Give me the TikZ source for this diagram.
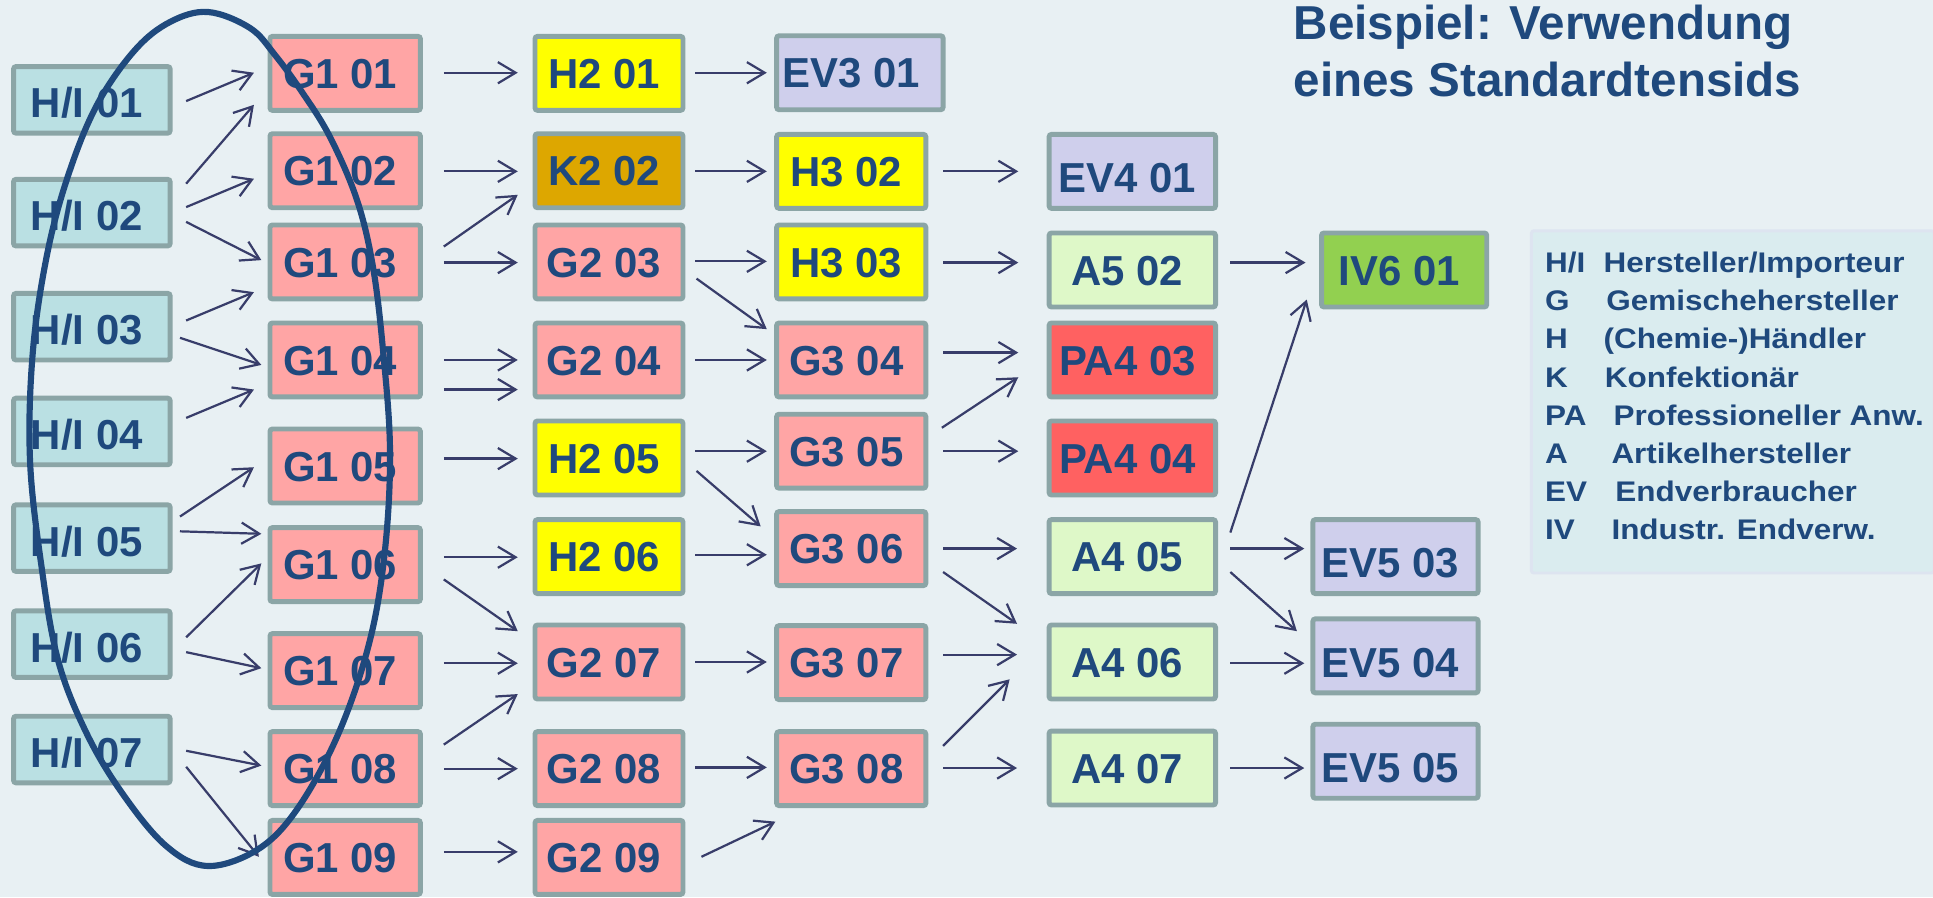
\documentclass[tikz,border=0pt]{standalone}
\usepackage{fontspec}
\setmainfont{Liberation Sans}
\newfontfamily\legfont{Liberation Sans}[FakeStretch=1.11]
\usetikzlibrary{arrows.meta,calc}
\definecolor{bgc}{RGB}{232,240,243}
\definecolor{bordc}{RGB}{139,165,166}
\definecolor{txtc}{RGB}{31,73,125}
\definecolor{arrc}{RGB}{56,61,106}
\definecolor{hifill}{RGB}{186,224,227}
\definecolor{gfill}{RGB}{255,165,165}
\definecolor{hfill}{RGB}{255,255,0}
\definecolor{kfill}{RGB}{221,167,0}
\definecolor{evfill}{RGB}{207,207,236}
\definecolor{afill}{RGB}{222,248,200}
\definecolor{pafill}{RGB}{255,97,97}
\definecolor{ivfill}{RGB}{146,208,80}
\definecolor{legfill}{RGB}{218,236,239}
\definecolor{legbord}{RGB}{221,228,240}
\newcommand\conn[4]{\draw[arr] ($(#1)+#2$) -- ($(#3)+#4$);}
\begin{document}
\begin{tikzpicture}[x=0.5pt,y=-0.5pt,
  box/.style={draw=bordc, line width=2pt, rounded corners=1pt,
    font=\fontsize{17}{20}\selectfont\bfseries, text=txtc, inner sep=0pt,
    text height=12.2pt, text depth=0pt, minimum height=30pt,
    execute at end node={\kern4pt}},
  hib/.style={box, fill=hifill, minimum width=63.5pt, minimum height=27pt, text height=14.6pt},
  wa/.style={minimum width=61pt},
  wb/.style={minimum width=60pt},
  wc/.style={minimum width=60.5pt},
  wd/.style={minimum width=67.5pt},
  we/.style={minimum width=67pt},
  low/.style={text height=17.2pt},
  fg/.style={box, fill=gfill},
  fh/.style={box, fill=hfill},
  fk/.style={box, fill=kfill},
  fev/.style={box, fill=evfill},
  fa/.style={box, fill=afill},
  fpa/.style={box, fill=pafill},
  fiv/.style={box, fill=ivfill},
  arr/.style={draw=arrc, line width=0.9pt, -{Straight Barb[length=7.2pt,width=8.6pt]}},
  ell/.style={draw=txtc, line width=2.5pt},
  title/.style={anchor=base west, inner sep=0pt, text=txtc, font=\fontsize{19.3}{23}\selectfont\bfseries},
  leg/.style={anchor=base west, inner sep=0pt, text=txtc, font=\legfont\fontsize{11.5}{14}\selectfont\bfseries},
  legbox/.style={draw=legbord, fill=legfill, line width=1.2pt, rounded corners=1pt, minimum width=163.3pt, minimum height=138.8pt, inner sep=0pt}
]
\useasboundingbox (0,0) rectangle (1568,728);
\fill[bgc] (0,0) rectangle (1568,728);

% column 0
\node[hib] (hi1) at (74.5,81) {H/I 01};
\node[hib] (hi2) at (74.5,172.5) {H/I 02};
\node[hib] (hi3) at (74.5,265) {H/I 03};
\node[hib] (hi4) at (74.5,350) {H/I 04};
\node[hib] (hi5) at (74.5,436.5) {H/I 05};
\node[hib] (hi6) at (74.5,522.5) {H/I 06};
\node[hib] (hi7) at (74.5,608) {H/I 07};
% column 1
\node[fg,wa] (g101) at (280,59.5) {G1 01};
\node[fg,wa] (g102) at (280,138.5) {G1 02};
\node[fg,wa] (g103) at (280,212.5) {G1 03};
\node[fg,wa] (g104) at (280,292) {G1 04};
\node[fg,wa] (g105) at (280,378) {G1 05};
\node[fg,wa] (g106) at (280,458) {G1 06};
\node[fg,wa] (g107) at (280,544) {G1 07};
\node[fg,wa] (g108) at (280,623.5) {G1 08};
\node[fg,wa] (g109) at (280,695.5) {G1 09};
% column 2
\node[fh,wb] (h201) at (494,59.5) {H2 01};
\node[fk,wb] (k202) at (494,138.5) {K2 02};
\node[fg,wb] (g203) at (494,212.5) {G2 03};
\node[fg,wb] (g204) at (494,292) {G2 04};
\node[fh,wb] (h205) at (494,371.5) {H2 05};
\node[fh,wb] (h206) at (494,451.5) {H2 06};
\node[fg,wb] (g207) at (494,537) {G2 07};
\node[fg,wb] (g208) at (494,623.5) {G2 08};
\node[fg,wb] (g209) at (494,695.5) {G2 09};
% column 3
\node[fev,wd,execute at end node={\kern3pt}] (ev301) at (697.5,59) {EV3 01};
\node[fh,wc] (h302) at (690.5,139) {H3 02};
\node[fh,wc] (h303) at (690.5,212.5) {H3 03};
\node[fg,wc] (g304) at (690.5,292) {G3 04};
\node[fg,wc] (g305) at (690.5,366) {G3 05};
\node[fg,wc] (g306) at (690.5,445) {G3 06};
\node[fg,wc] (g307) at (690.5,537.5) {G3 07};
\node[fg,wc] (g308) at (690.5,623.5) {G3 08};
% column 4
\node[fev,wd,low] (ev401) at (918.5,139) {EV4 01};
\node[fa,wd] (a502) at (918.5,219) {A5 02};
\node[fpa,wd] (pa403) at (918.5,292) {PA4 03};
\node[fpa,wd] (pa404) at (918.5,371.5) {PA4 04};
\node[fa,wd] (a405) at (918.5,451.5) {A4 05};
\node[fa,wd] (a406) at (918.5,537) {A4 06};
\node[fa,wd] (a407) at (918.5,623) {A4 07};
% column 5
\node[fiv,we] (iv601) at (1139,219) {IV6 01};
\node[fev,we,low,execute at end node={}] (ev503) at (1132,451.5) {EV5 03};
\node[fev,we,low,execute at end node={}] (ev504) at (1132,532) {EV5 04};
\node[fev,we,low,execute at end node={}] (ev505) at (1132,617.5) {EV5 05};

% arrows column 0 -> 1
\conn{hi1.east}{(11,1)}{g101.west}{(-11,-0.5)}
\conn{hi2.east}{(11,-23.5)}{g101.west}{(-11,25.5)}
\conn{hi2.east}{(11,-4.5)}{g102.west}{(-11,6.5)}
\conn{hi2.east}{(11,7.5)}{g103.west}{(-5,-1.5)}
\conn{hi3.east}{(11,-5)}{g103.west}{(-11,24.5)}
\conn{hi3.east}{(6,9)}{g104.west}{(-5,4)}
\conn{hi4.east}{(11,-11)}{g104.west}{(-11,24)}
\conn{hi5.east}{(6,-17.5)}{g105.west}{(-11,1)}
\conn{hi5.east}{(6,-5.5)}{g106.west}{(-5,-25)}
\conn{hi6.east}{(11,-5.5)}{g106.west}{(-5,-1)}
\conn{hi6.east}{(11,6.5)}{g107.west}{(-5,-2)}
\conn{hi7.east}{(11,1)}{g108.west}{(-5,-2.5)}
\conn{hi7.east}{(11,14)}{g109.west}{(-7,-0.5)}
% column 1 -> 2
\conn{g101.east}{(17,-0.5)}{h201.west}{(-12,-0.5)}
\conn{g102.east}{(17,0.5)}{k202.west}{(-12,0.5)}
\conn{g103.east}{(17,-12.5)}{k202.west}{(-12,19.5)}
\conn{g103.east}{(17,0.5)}{g203.west}{(-12,0.5)}
\conn{g104.east}{(17,0)}{g204.west}{(-12,0)}
\conn{g104.east}{(17,24)}{g204.west}{(-12,24)}
\conn{g105.east}{(17,-6)}{h205.west}{(-12,0.5)}
\conn{g106.east}{(17,-6)}{h206.west}{(-12,0.5)}
\conn{g106.east}{(17,12)}{g207.west}{(-12,-25)}
\conn{g107.east}{(17,-6)}{g207.west}{(-12,1)}
\conn{g108.east}{(17,-19.5)}{g207.west}{(-12,26)}
\conn{g108.east}{(17,0)}{g208.west}{(-12,0)}
\conn{g109.east}{(17,-4.5)}{g209.west}{(-12,-4.5)}
% column 2 -> 3
\conn{h201.east}{(8,-0.5)}{ev301.west}{(-6,0)}
\conn{k202.east}{(8,0.5)}{h302.west}{(-6,0)}
\conn{g203.east}{(8,-0.5)}{h303.west}{(-6,-0.5)}
\conn{g203.east}{(9,13.5)}{g304.west}{(-6,-25)}
\conn{g204.east}{(8,0)}{g304.west}{(-6,0)}
\conn{h205.east}{(8,-5.5)}{g305.west}{(-6,0)}
\conn{h205.east}{(9,10.5)}{g306.west}{(-11,-18)}
\conn{h206.east}{(8,-1.5)}{g306.west}{(-6,5)}
\conn{g207.east}{(8,0)}{g307.west}{(-6,-0.5)}
\conn{g208.east}{(8,-1)}{g308.west}{(-6,-1)}
\conn{g209.east}{(13,-0.5)}{g308.south west}{(1,11)}
% column 3 -> 4
\conn{h302.east}{(12,0)}{ev401.west}{(-23,0)}
\conn{h303.east}{(12,0.5)}{a502.west}{(-23,-6)}
\conn{g304.east}{(12,-6)}{pa403.west}{(-23,-6)}
\conn{g305.east}{(11,-19)}{pa403.west}{(-23,14)}
\conn{g305.east}{(12,0)}{pa404.west}{(-23,-5.5)}
\conn{g306.east}{(12,0)}{a405.west}{(-24,-6.5)}
\conn{g306.east}{(12,19)}{a406.west}{(-24,-31)}
\conn{g307.east}{(12,-6.5)}{a406.west}{(-24,-6)}
\conn{g308.east}{(12,-18.5)}{a406.west}{(-30,14)}
\conn{g308.east}{(12,-0.5)}{a407.west}{(-24,0)}
% column 4 -> 5
\conn{a502.east}{(10,-6)}{iv601.west}{(-11,-6)}
\conn{a405.east}{(10,-19.5)}{iv601.south west}{(-10,-8)}
\conn{a405.east}{(10,-6.5)}{ev503.west}{(-5,-6.5)}
\conn{a405.east}{(10,12.5)}{ev504.west}{(-11,-20)}
\conn{a406.east}{(10,1)}{ev504.west}{(-5,6)}
\conn{a407.east}{(10,0)}{ev505.west}{(-5,5.5)}

% ellipse round the first columns
\begin{scope}[scale=0.81116]
\draw[ell] plot[smooth cycle, tension=0.6] coordinates {
  (208,12) (250,28) (275,55) (302,92) (330,137) (357,200) (373,267)
  (383,350) (390,450) (385,550) (370,640) (340,730) (300,805) (260,848)
  (208,866) (165,845) (120,790) (85,730) (58,660) (42,570) (30,460)
  (33,350) (48,250) (70,170) (98,103) (135,50) (170,22)};
\end{scope}

% title
\node[title] (t1) at (1049,32) {Beispiel: Verwendung};
\node[title] (t2) at (1049,78.5) {eines Standardtensids};

% legend
\node[legbox] (legend) at (1405.5,326) {};
\node[leg] (l1a) at (1253,221) {H/I};
\node[leg] (l1b) at (1300.5,221) {Hersteller/Importeur};
\node[leg] (l2a) at (1253,252) {G};
\node[leg] (l2b) at (1302.7,252) {Gemischehersteller};
\node[leg] (l3a) at (1253,283) {H};
\node[leg] (l3b) at (1300.5,283) {(Chemie-)Händler};
\node[leg] (l4a) at (1253,314) {K};
\node[leg] (l4b) at (1301.4,314) {Konfektionär};
\node[leg] (l5a) at (1253,345) {PA};
\node[leg] (l5b) at (1308.5,345) {Professioneller Anw.};
\node[leg] (l6a) at (1253,376) {A};
\node[leg] (l6b) at (1306.8,376) {Artikelhersteller};
\node[leg] (l7a) at (1253,407) {EV};
\node[leg] (l7b) at (1310,407) {Endverbraucher};
\node[leg] (l8a) at (1253,438) {IV};
\node[leg] (l8b) at (1306.8,438) {Industr. Endverw.};
\end{tikzpicture}
\end{document}
